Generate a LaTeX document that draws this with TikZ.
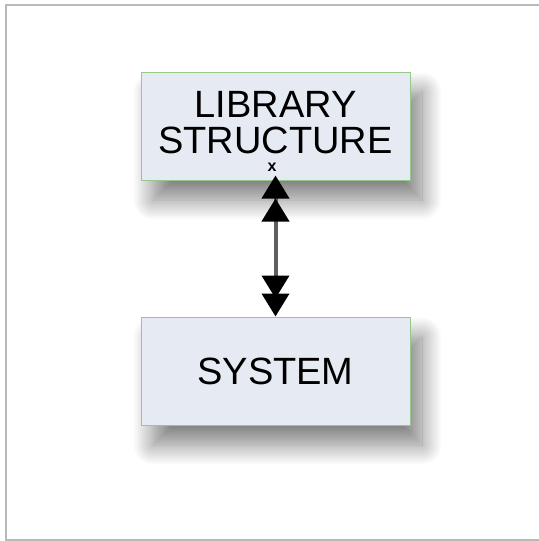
\documentclass[tikz,border=0pt]{standalone}
\usepackage{fontspec}
\setmainfont{Liberation Sans}
\usepackage{tikz}
\usetikzlibrary{arrows.meta,positioning,shadows.blur}
\definecolor{boxfill}{RGB}{230,235,243}
\definecolor{boxline}{RGB}{150,200,140}
\definecolor{framegray}{RGB}{185,185,185}
\definecolor{shaftgray}{RGB}{95,95,95}
\tikzset{
  libbox/.style={draw=boxline, fill=boxfill, line width=0.5pt, minimum width=134.5pt, minimum height=54pt,
    inner sep=0pt, align=center, font=\fontsize{19}{18}\selectfont,
    blur shadow={shadow xshift=6pt, shadow yshift=-10pt, shadow blur radius=10pt, shadow blur steps=24, shadow opacity=50}},
  tiphead/.tip={Triangle[length=11.5pt,width=13.5pt,color=black]},
  dblarrow/.style={{tiphead[sep=-2.5pt]tiphead}-{tiphead[sep=-2.5pt]tiphead},
    draw=shaftgray, line width=2pt},
}
\begin{document}
\begin{tikzpicture}[x=0.5pt, y=-0.5pt, node distance=68pt]
  \useasboundingbox (0,0) rectangle (538,541);
  % frame, open on the right
  \draw[framegray, line width=1pt] (560,4.5) -- (5.5,4.5) -- (5.5,539.5) -- (560,539.5);

  % boxes
  \node[libbox, text depth=4pt] (lib) at (275.5,126) {LIBRARY\\STRUCTURE};
  \node[libbox, below=of lib] (sys) {SYSTEM};
  \node[font=\bfseries\fontsize{8}{8}\selectfont, inner sep=0pt, anchor=south] (xmark) at ([xshift=-1.75pt,yshift=4.5pt]lib.south) {x};

  % connector
  \draw[dblarrow] (lib.south) -- (sys.north);
\end{tikzpicture}
\end{document}
